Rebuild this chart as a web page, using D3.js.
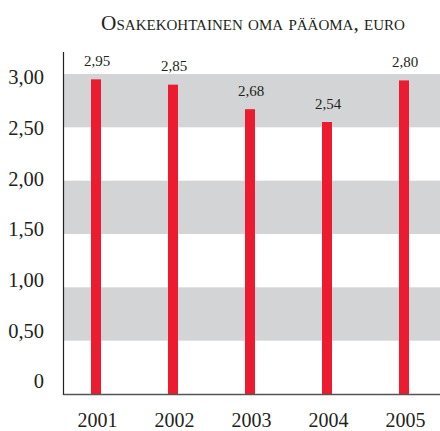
<!DOCTYPE html>
<html>
<head>
<meta charset="utf-8">
<script src="https://cdn.jsdelivr.net/npm/d3@7"></script>
<style>
  html, body { margin: 0; padding: 0; background: #fff; }
  svg { display: block; font-family: "Liberation Serif", "DejaVu Serif", serif; }
</style>
</head>
<body>
<svg id="chart" width="440" height="431"></svg>
<script>
// ---- data ----
const years = ["2001", "2002", "2003", "2004", "2005"];
const barValues = [2.95, 2.90, 2.67, 2.55, 2.94];      // bar heights as drawn
const valueLabels = ["2,95", "2,85", "2,68", "2,54", "2,80"];
const tickValues = [0, 0.5, 1, 1.5, 2, 2.5, 3];
const tickLabels = ["0", "0,50", "1,00", "1,50", "2,00", "2,50", "3,00"];
const bandRanges = [[0.5, 1.0], [1.5, 2.0], [2.5, 3.0]];
const title = "Osakekohtainen oma pääoma, euro";

// ---- layout ----
const svg = d3.select("#chart");
const axisX = 63.5, baseY = 394, plotRight = 440;
const y = d3.scaleLinear().domain([0, 3]).range([baseY, 74]);
const yText = d3.scaleLinear().domain([0, 3]).range([380.7, 76.7]);
const x = d3.scalePoint().domain(years).range([96, 404]);
const barW = 10;
const ink = "#231f20";

// bands
svg.append("g").selectAll("rect").data(bandRanges).join("rect")
  .attr("x", axisX).attr("width", plotRight - axisX)
  .attr("y", d => y(d[1])).attr("height", d => y(d[0]) - y(d[1]))
  .attr("fill", "#d3d4d6");

// bars
svg.append("g").selectAll("rect").data(years).join("rect")
  .attr("x", d => x(d) - barW / 2).attr("width", barW)
  .attr("y", (d, i) => y(barValues[i]))
  .attr("height", (d, i) => baseY - y(barValues[i]))
  .attr("fill", "#ed1b2f");

// value labels
svg.append("g").selectAll("text").data(years).join("text")
  .attr("x", d => x(d) + 1)
  .attr("y", (d, i) => y(barValues[i]) - 13.5)
  .attr("text-anchor", "middle")
  .attr("font-size", 15).attr("fill", ink)
  .text((d, i) => valueLabels[i]);

// y axis (labels only, positioned on label scale)
const yAxis = d3.axisLeft(yText).tickValues(tickValues)
  .tickFormat((d, i) => tickLabels[i]).tickSize(0).tickPadding(0);
const gy = svg.append("g").attr("transform", "translate(44,0)").call(yAxis);
gy.select(".domain").remove();
gy.selectAll("text").attr("font-size", 20.5).attr("fill", ink)
  .attr("font-family", "Liberation Serif, serif").attr("dy", "0.35em");

// x axis labels
const xAxis = d3.axisBottom(x).tickSize(0).tickPadding(0);
const gx = svg.append("g").attr("transform", "translate(0,427)").call(xAxis);
gx.select(".domain").remove();
gx.selectAll("text").attr("font-size", 20).attr("fill", ink)
  .attr("font-family", "Liberation Serif, serif").attr("dy", 0).attr("x", 1);

// axis lines
svg.append("line").attr("x1", axisX).attr("x2", axisX).attr("y1", 52).attr("y2", baseY + 1)
  .attr("stroke", "#222").attr("stroke-width", 1.2);
svg.append("line").attr("x1", axisX).attr("x2", plotRight).attr("y1", baseY + 0.5).attr("y2", baseY + 0.5)
  .attr("stroke", "#555").attr("stroke-width", 1.6);

// title
svg.append("text").attr("x", 253).attr("y", 30)
  .attr("text-anchor", "middle").attr("font-size", 21.3)
  .attr("fill", ink)
  .style("font-variant", "small-caps")
  .text(title);
</script>
</body>
</html>
